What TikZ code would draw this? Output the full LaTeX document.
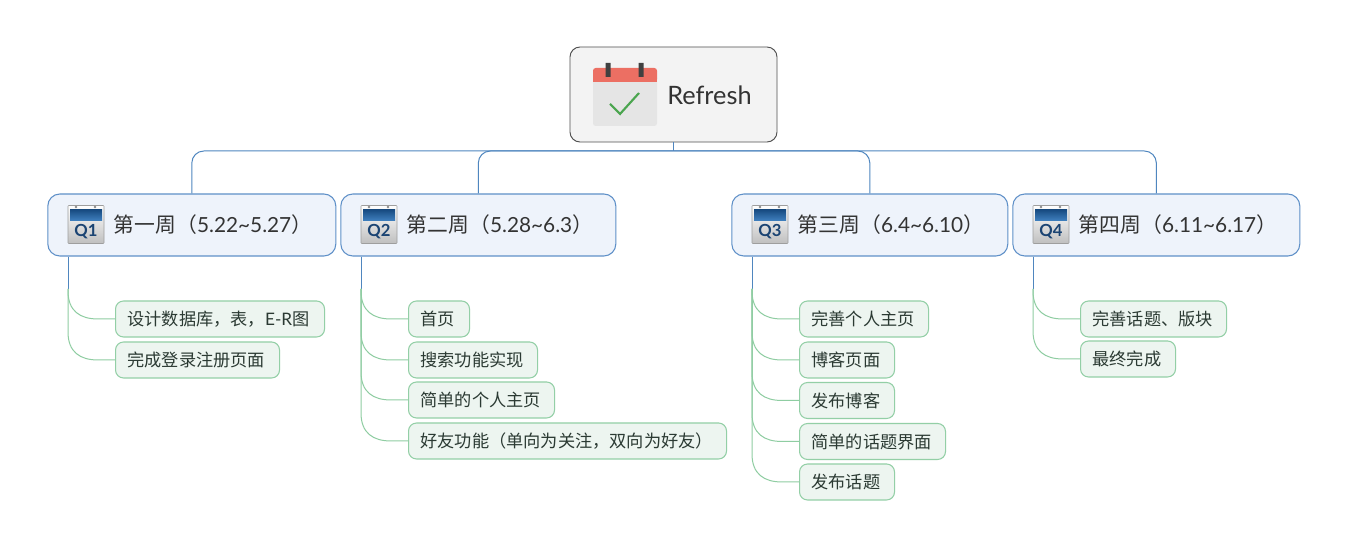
\documentclass[tikz,border=0pt]{standalone}
\usepackage{fontspec}
\usetikzlibrary{calc}
\setmainfont{Lato}
\newfontfamily\cjk{Noto Sans CJK SC}
\definecolor{rootfill}{HTML}{F3F3F3}
\definecolor{rootline}{HTML}{4F4F4F}
\definecolor{mainfill}{HTML}{EEF3FB}
\definecolor{mainline}{HTML}{5F90C8}
\definecolor{kidfill}{HTML}{EDF5F0}
\definecolor{kidline}{HTML}{93CFA6}
\definecolor{wireblue}{HTML}{4F86BF}
\definecolor{wiregreen}{HTML}{8FCDA2}
\definecolor{inktext}{HTML}{2B3A33}
\definecolor{headtop}{HTML}{174A80}
\definecolor{headbot}{HTML}{3F7FBE}
\definecolor{qink}{HTML}{1B4473}
\definecolor{calred}{HTML}{EC6F63}
\definecolor{calgreen}{HTML}{4BA54F}
\tikzset{
  rootbox/.style={draw=rootline,fill=rootfill,rounded corners=7.5pt,line width=0.7pt,minimum width=155.25pt,minimum height=71.25pt,inner sep=0pt},
  mainbox/.style={draw=mainline,fill=mainfill,rounded corners=9pt,line width=0.8pt,minimum height=46.5pt,inner xsep=9pt,inner ysep=0pt,anchor=west,align=left,font=\fontsize{15.6}{18}\selectfont,text=black!80},
  kidbox/.style={draw=kidline,fill=kidfill,rounded corners=6pt,line width=0.8pt,minimum height=27pt,inner xsep=9pt,inner ysep=0pt,anchor=west,align=left,font=\fontsize{12.9}{15}\selectfont,text=inktext},
  bluewire/.style={draw=wireblue,line width=0.75pt,rounded corners=9pt},
  greenwire/.style={draw=wiregreen,line width=0.75pt}
}
\newcommand{\mainlabel}[2]{\hspace*{40.5pt}{\cjk #1（}#2{\cjk ）}}
\newcommand{\qcal}[3]{%
  \begin{scope}[shift={(#1,#2)}]
    \draw[draw=black!38,top color=white,bottom color=black!25,rounded corners=0.6pt] (0,0) rectangle (36,38);
    \fill[top color=headtop,bottom color=headbot] (2,4) rectangle (34,15);
    \fill[black!45] (8,1.5) circle (1.3) (27,1.5) circle (1.3);
    \node[font=\bfseries\fontsize{12.5}{12.5}\selectfont,text=qink,inner sep=0pt] (#3) at (18,26) {#3};
  \end{scope}}
\newcommand{\kidwire}[2]{\draw[greenwire] (#1) -- ($(#1 |- #2.west)+(0,-28)$) .. controls ($(#1 |- #2.west)+(0,-8)$) and ($(#1 |- #2.west)+(12,0)$) .. ($(#1 |- #2.west)+(30,0)$) -- (#2.west);}
\begin{document}
\begin{tikzpicture}[x=0.75pt,y=-0.75pt]
\useasboundingbox[fill=white] (0,0) rectangle (1347,548);
\coordinate (bar) at (673.5,151);
\coordinate (s1) at (68,289);
\coordinate (s2) at (361,289);
\coordinate (s3) at (752,289);
\coordinate (s4) at (1033,289);

\node[rootbox] (root) at (673.5,94.5) {};
\node[anchor=west,inner sep=0pt,font=\fontsize{19}{22}\selectfont,text=black!80] (roottext) at (667,95) {Refresh};

\node[mainbox,text width=198pt] (m1) at (47.3,225) {\mainlabel{第一周}{5.22\textasciitilde 5.27}};
\node[mainbox,text width=188.25pt] (m2) at (340.3,225) {\mainlabel{第二周}{5.28\textasciitilde 6.3}};
\node[mainbox,text width=189pt] (m3) at (731.3,225) {\mainlabel{第三周}{6.4\textasciitilde 6.10}};
\node[mainbox,text width=197.25pt] (m4) at (1012.3,225) {\mainlabel{第四周}{6.11\textasciitilde 6.17}};

\node[kidbox,text width=138.75pt] (a1) at (115,319) {{\cjk 设计数据库，表，}E-R{\cjk 图}};
\node[kidbox,text width=105pt] (a2) at (115,360) {\cjk 完成登录注册页面};
\node[kidbox,text width=27.75pt] (b1) at (408,319) {\cjk 首页};
\node[kidbox,text width=78.75pt] (b2) at (408,360) {\cjk 搜索功能实现};
\node[kidbox,text width=91.5pt] (b3) at (408,400) {\cjk 简单的个人主页};
\node[kidbox,text width=220.5pt] (b4) at (408,441) {\cjk 好友功能（单向为关注，双向为好友）};
\node[kidbox,text width=78.75pt] (c1) at (799,319) {\cjk 完善个人主页};
\node[kidbox,text width=53.25pt] (c2) at (799,360) {\cjk 博客页面};
\node[kidbox,text width=53.25pt] (c3) at (799,400.5) {\cjk 发布博客};
\node[kidbox,text width=91.5pt] (c4) at (799,441.5) {\cjk 简单的话题界面};
\node[kidbox,text width=53.25pt] (c5) at (799,482) {\cjk 发布话题};
\node[kidbox,text width=91.5pt] (d1) at (1080,319) {\cjk 完善话题、版块};
\node[kidbox,text width=53.25pt] (d2) at (1080,359) {\cjk 最终完成};

% trunk
\draw[bluewire] (root.south) -- (bar);
\draw[bluewire] (bar) -| (m1.north);
\draw[bluewire] (bar) -| (m2.north);
\draw[bluewire] (bar) -| (m3.north);
\draw[bluewire] (bar) -| (m4.north);
% spines
\draw[bluewire] (s1 |- m1.south) -- (s1);
\draw[bluewire] (s2 |- m2.south) -- (s2);
\draw[bluewire] (s3 |- m3.south) -- (s3);
\draw[bluewire] (s4 |- m4.south) -- (s4);
% children
\kidwire{s1}{a1}\kidwire{s1}{a2}
\kidwire{s2}{b1}\kidwire{s2}{b2}\kidwire{s2}{b3}\kidwire{s2}{b4}
\kidwire{s3}{c1}\kidwire{s3}{c2}\kidwire{s3}{c3}\kidwire{s3}{c4}\kidwire{s3}{c5}
\kidwire{s4}{d1}\kidwire{s4}{d2}

% root calendar
\fill[black!10,rounded corners=2pt] (593,75) rectangle (657,126);
\fill[calred,rounded corners=2pt] (593,68) rectangle (657,82);
\fill[calred] (593,75) rectangle (657,82);
\fill[black!75] (605.5,63) rectangle (610.5,77) (638.5,63) rectangle (643.5,77);
\draw[calgreen,line width=1.6pt] (610,104) -- (620,114) -- (639,93);

\qcal{68}{205.5}{Q1}
\qcal{361}{205.5}{Q2}
\qcal{752}{205.5}{Q3}
\qcal{1033}{205.5}{Q4}
\end{tikzpicture}
\end{document}
